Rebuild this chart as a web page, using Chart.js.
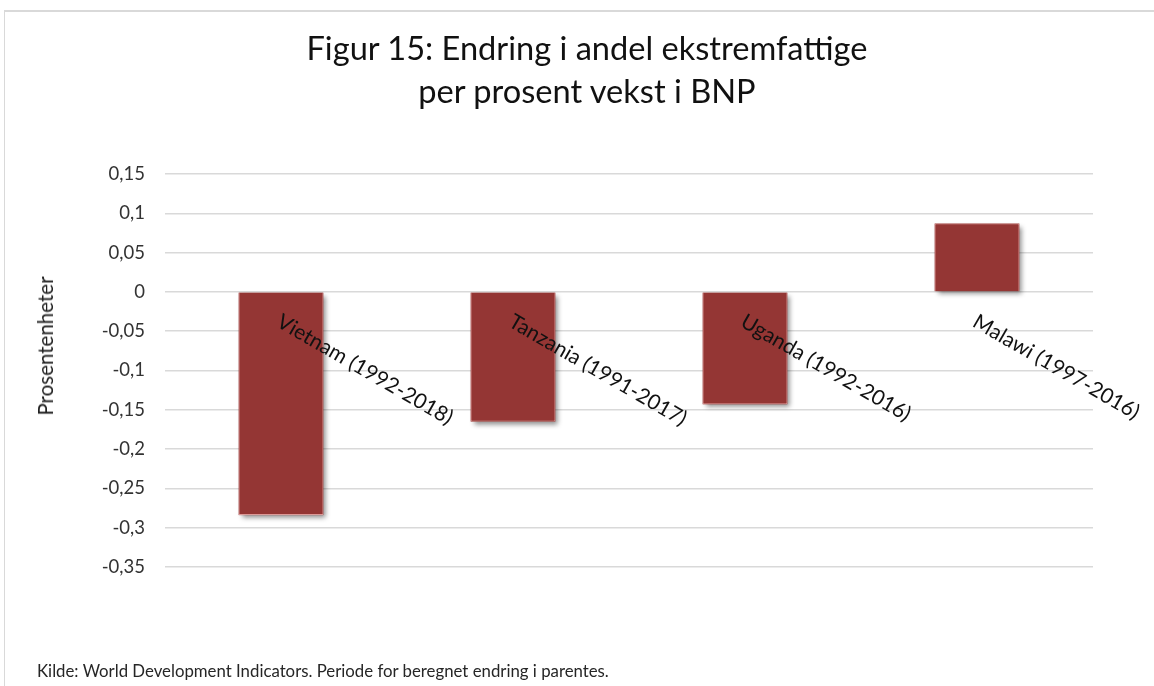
<!DOCTYPE html>
<html>
<head>
<meta charset="utf-8">
<script src="https://cdn.jsdelivr.net/npm/chart.js@4"></script>
<style>
  html, body { margin: 0; padding: 0; background: #fff; }
  #wrap { position: relative; width: 1154px; height: 686px; overflow: hidden;
          font-family: Lato, "Open Sans", sans-serif; }
  #frame { position: absolute; left: 4px; top: 10px; width: 1160px; height: 690px;
           border-top: 2px solid #d9d9d9; border-left: 1px solid #d9d9d9; }
  canvas { position: absolute; left: 0; top: 0; }
  #title { position: absolute; left: 0; width: 1174px; top: 26px; text-align: center;
           font-size: 32.6px; line-height: 43px; color: #111; }
  #ytitle { position: absolute; left: 45px; top: 346px; transform: translate(-50%, -50%) rotate(-90deg);
            font-size: 20.5px; color: #222; white-space: nowrap; }
  #note { position: absolute; left: 37px; top: 660px; font-size: 16.8px; color: #262626; }
</style>
</head>
<body>
<div id="wrap">
  <div id="frame"></div>
  <canvas id="chart" width="1154" height="686"></canvas>
  <div id="title">Figur 15: Endring i andel ekstremfattige<br>per prosent vekst i BNP</div>
  <div id="ytitle">Prosentenheter</div>
  <div id="note">Kilde: World Development Indicators. Periode for beregnet endring i parentes.</div>
</div>
<script>
const countries = ['Vietnam (1992-2018)', 'Tanzania (1991-2017)', 'Uganda (1992-2016)', 'Malawi (1997-2016)'];
const changePerGrowth = [-0.284, -0.165, -0.143, 0.087];
const yTicks = [0.15, 0.1, 0.05, 0, -0.05, -0.1, -0.15, -0.2, -0.25, -0.3, -0.35];

const fontFamily = 'Lato, "Open Sans", sans-serif';

// Excel-style category labels: hung off the zero line, tilted 30 degrees
const zeroLineLabels = {
  id: 'zeroLineLabels',
  afterDatasetsDraw(chart) {
    const { ctx, scales } = chart;
    const y0 = scales.y.getPixelForValue(0);
    ctx.save();
    ctx.font = '21px ' + fontFamily;
    ctx.fillStyle = '#111';
    ctx.textAlign = 'left';
    ctx.textBaseline = 'top';
    countries.forEach((name, i) => {
      ctx.save();
      ctx.translate(scales.x.getPixelForValue(i) + 3, y0 + 19);
      ctx.rotate(Math.PI / 6);
      ctx.fillText(name, 0, 0);
      ctx.restore();
    });
    ctx.restore();
  }
};

// soft drop shadow under the bars (the bar element clips its own shadow,
// so paint it first from the element geometry)
const barShadow = {
  id: 'barShadow',
  beforeDatasetDraw(chart, args) {
    const ctx = chart.ctx;
    ctx.save();
    ctx.shadowColor = 'rgba(0,0,0,0.45)';
    ctx.shadowBlur = 5;
    ctx.shadowOffsetX = 3;
    ctx.shadowOffsetY = 3;
    ctx.fillStyle = '#943634';
    args.meta.data.forEach(bar => {
      const { x, y, base, width } = bar.getProps(['x', 'y', 'base', 'width'], true);
      ctx.fillRect(x - width / 2, Math.min(y, base), width, Math.abs(base - y));
    });
    ctx.restore();
  }
};

new Chart(document.getElementById('chart'), {
  type: 'bar',
  data: {
    labels: countries,
    datasets: [{
      data: changePerGrowth,
      backgroundColor: '#943634',
      borderColor: '#dc9a98',
      borderWidth: 1,
      categoryPercentage: 1,
      barPercentage: 0.365
    }]
  },
  options: {
    responsive: false,
    animation: false,
    layout: { padding: { left: 30, right: 61, top: 174, bottom: 119 } },
    plugins: {
      legend: { display: false },
      tooltip: { enabled: false },
      title: { display: false }
    },
    scales: {
      x: { display: false },
      y: {
        min: -0.35,
        max: 0.15,
        afterBuildTicks(scale) {
          scale.ticks = yTicks.map(v => ({ value: v }));
        },
        afterFit(scale) { scale.width = 135; },
        border: { display: false },
        grid: { color: '#d9d9d9', lineWidth: 1.5, drawTicks: false },
        ticks: {
          padding: 20,
          color: '#333',
          font: { family: fontFamily, size: 18.5 },
          callback: v => String(Math.round(v * 100) / 100).replace('.', ',')
        }
      }
    }
  },
  plugins: [barShadow, zeroLineLabels]
});
</script>
</body>
</html>
